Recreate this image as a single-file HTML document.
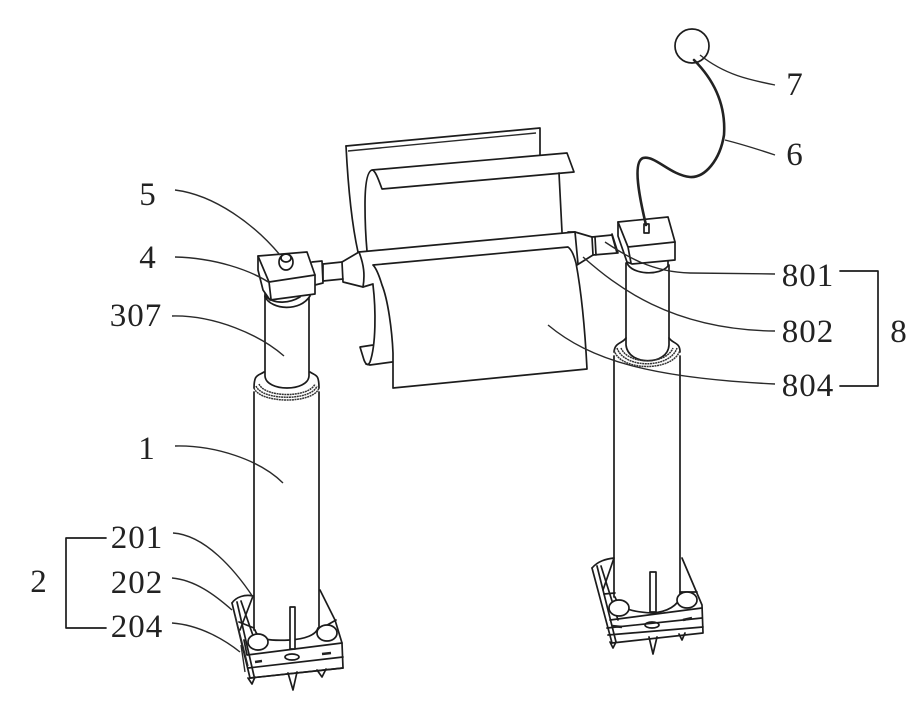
<!DOCTYPE html>
<html><head><meta charset="utf-8"><style>
html,body{margin:0;padding:0;background:#fff}
svg{display:block}
text{font-family:"Liberation Serif",serif;font-size:33px;fill:#222;text-anchor:middle;letter-spacing:1px}
.l{fill:none;stroke:#1c1c1c;stroke-width:1.7;stroke-linejoin:round;stroke-linecap:round}
.t{fill:none;stroke:#2a2a2a;stroke-width:1.4}
.g{fill:none;stroke:#333;stroke-width:1.5;stroke-dasharray:2 .6}
.w{fill:#fff;stroke:#1c1c1c;stroke-width:1.7;stroke-linejoin:round}
</style></head><body>
<svg width="924" height="710" viewBox="0 0 924 710" xmlns="http://www.w3.org/2000/svg">
<rect width="924" height="710" fill="#fff"/>

<!-- back sheet -->
<path class="l" d="M346,146 L540,128 L540,155"/>
<path class="t" d="M348,151 L536,133"/>
<path class="l" d="M346,146 C348,185 352,225 358,252"/>
<path class="l" d="M372,170 L567,153 L574,172 L382,189 C378,178 375,170 372,170 C366,172 365,190 365,205 C365,225 366,240 367,251"/>
<path class="l" d="M559,173 L562,232"/>

<!-- lower curl -->
<path class="l" d="M373,285 C376,310 376,345 370,362 C368,366 366,365 364,360 L360,347 L373,345"/>
<path class="l" d="M366,364 L370,365 L392,362"/>

<!-- roller and front sheet -->
<path class="l" d="M359,252 L575,232"/>
<path class="l" d="M373,265 L568,247 C572,250 574,256 576,263 C581,290 585,330 587,369 L393,388 L393,353 C392,330 388,300 382,285 C379,275 376,268 373,265"/>
<path class="l" d="M568,232 L575,232 L578,264"/>

<!-- left coupler -->
<path class="l" d="M359,252 L342,262 L343,282 L363,287 L373,284"/>
<path class="l" d="M359,252 C364,265 365,275 363,287"/>
<path class="l" d="M323,264 L342,262 M323,281 L343,279 M323,264 L323,281"/>
<path class="l" d="M312,262 L322,261 L323,283 L315,285"/>

<!-- right coupler -->
<path class="l" d="M575,232 L592,237 L593,255 L577,265"/>
<path class="l" d="M592,237 L612,235 L617,253 L593,255 M595,237 L596,255"/>
<path class="l" d="M612,234 L618,253"/>

<!-- left column -->
<path class="l" d="M254,392 L254,630 M319,392 L319,628"/>
<path class="l" d="M254,388 C254,374 258,376 264,372 M319,388 C319,374 316,376 310,372"/>
<path class="l" d="M265,296 L265,376 C266,392 308,392 309,376 L309,296"/>
<path class="g" d="M254,388 C260,404 314,404 319,388 M256,386 C262,401 312,401 317,386"/>
<path class="g" stroke-width="2" d="M259,384 C265,398 309,398 315,384"/>

<!-- left block -->
<path class="w" d="M265,297 C272,310 300,312 310,296 L310,285 L265,285 Z"/>
<path class="w" d="M258,256 L307,252 L315,275 L315,294 L270,300 L263,290 L258,270 Z"/>
<path class="l" d="M258,256 L269,282 L315,275 M269,282 L271,299"/>
<path class="l" d="M265,296 C275,305 290,303 300,297"/>
<ellipse class="w" cx="286" cy="262" rx="7" ry="8"/>
<ellipse class="l" cx="286" cy="258" rx="5" ry="4"/>

<!-- right column -->
<path class="l" d="M614,356 L614,597 M680,356 L680,597"/>
<path class="l" d="M626,263 L626,345 C628,366 668,366 669,345 L669,265"/>
<path class="l" d="M614,352 C615,342 622,344 626,338 M680,352 C680,342 673,344 669,338"/>
<path class="g" d="M614,350 C620,372 674,372 680,350 M617,348 C624,369 670,369 677,348"/>
<path class="g" stroke-width="2" d="M621,348 C628,365 666,365 673,348"/>

<!-- right block -->
<path class="w" d="M627,263 C632,275 660,276 668,266 L668,255 L627,255 Z"/>
<path class="w" d="M618,222 L668,217 L675,242 L675,260 L632,264 L627,262 L618,236 Z"/>
<path class="l" d="M618,222 L628,247 L675,242 M628,247 L631,263"/>
<rect class="w" x="644" y="224" width="5" height="9"/>

<!-- ball and wire -->
<circle class="l" cx="692" cy="46" r="17"/>
<path fill="none" stroke="#222" stroke-width="2.6" stroke-linecap="round" d="M694,60 C714,80 726,105 724,135 C720,160 705,178 690,177 C670,175 655,155 643,158 C632,162 640,200 646,225"/>

<!-- left base -->
<path class="l" d="M232,603 L250,678 L343,668 L342,643 L335,620 L320,590"/>
<path class="l" d="M237,602 L254,676 M241,601 L258,650"/>
<path class="l" d="M244,640 L247,655 L342,643 M248,668 L343,657 M250,678 L343,668"/>
<path class="l" d="M232,603 C236,597 245,594 253,596 L240,630"/>
<path class="l" d="M255,630 C258,640 270,641 290,640 C305,639 316,635 318,628"/>
<path class="l" d="M239,622 L254,628 M322,628 L336,620"/>
<ellipse class="w" cx="258" cy="642" rx="10" ry="8"/>
<ellipse class="w" cx="327" cy="633" rx="10" ry="8"/>
<rect class="w" x="290" y="607" width="5" height="42"/>
<ellipse class="l" cx="292" cy="657" rx="7" ry="3"/>
<path stroke="#222" stroke-width="2.5" fill="none" d="M255,662 L262,661 M322,654 L331,653"/>
<path class="l" d="M248,678 L252,684 L255,677 M288,673 L293,690 L297,672 M317,670 L322,677 L326,669"/>
<path class="t" d="M241,645 L245,672 M235,615 L248,666"/>

<!-- right base -->
<path class="l" d="M592,568 L612,643 L703,633 L702,605 L682,558"/>
<path class="l" d="M597,566 L616,642 M601,566 L618,620"/>
<path class="l" d="M610,620 L702,608 M607,628 L702,618 M608,635 L703,627"/>
<path class="l" d="M592,568 C598,561 606,559 614,558 L603,590"/>
<path class="l" d="M615,597 C620,610 635,612 652,613 C668,612 678,605 680,597"/>
<path class="l" d="M604,594 L615,593 M680,592 L697,592"/>
<ellipse class="w" cx="619" cy="608" rx="10" ry="8"/>
<ellipse class="w" cx="687" cy="600" rx="10" ry="8"/>
<rect class="w" x="650" y="572" width="6" height="40"/>
<ellipse class="l" cx="652" cy="625" rx="7" ry="3"/>
<path stroke="#222" stroke-width="2.5" fill="none" d="M612,626 L622,627 M683,620 L692,618"/>
<path class="l" d="M610,642 L613,648 L616,642 M649,637 L653,654 L657,637 M679,634 L682,640 L685,633"/>

<!-- leaders -->
<path class="t" d="M700,55 C725,75 750,80 775,85"/>
<path class="t" d="M725,140 C745,145 760,150 775,155"/>
<path class="t" d="M175,190 C215,195 255,225 280,255"/>
<path class="t" d="M175,257 C215,258 250,270 270,283"/>
<path class="t" d="M172,316 C215,315 260,335 284,356"/>
<path class="t" d="M175,446 C215,445 260,460 283,483"/>
<path class="t" d="M173,533 C205,535 235,570 253,597"/>
<path class="t" d="M172,578 C195,580 215,595 232,610"/>
<path class="t" d="M172,623 C200,625 225,640 240,652"/>
<path class="t" d="M605,242 C625,255 650,272 690,273 L775,274"/>
<path class="t" d="M583,257 C615,285 670,330 775,331"/>
<path class="t" d="M548,325 C590,360 650,378 775,384"/>

<!-- brackets -->
<path class="l" d="M106,538 L66,538 L66,628 L106,628"/>
<path class="l" d="M840,271 L878,271 L878,386 L840,386"/>

<!-- labels -->
<text x="795" y="95">7</text>
<text x="795" y="165">6</text>
<text x="148" y="205">5</text>
<text x="148" y="268">4</text>
<text x="136" y="326">307</text>
<text x="147" y="459">1</text>
<text x="137" y="548">201</text>
<text x="137" y="593">202</text>
<text x="137" y="637">204</text>
<text x="39" y="592">2</text>
<text x="808" y="286">801</text>
<text x="808" y="342">802</text>
<text x="808" y="396">804</text>
<text x="899" y="342">8</text>
</svg>
</body></html>
